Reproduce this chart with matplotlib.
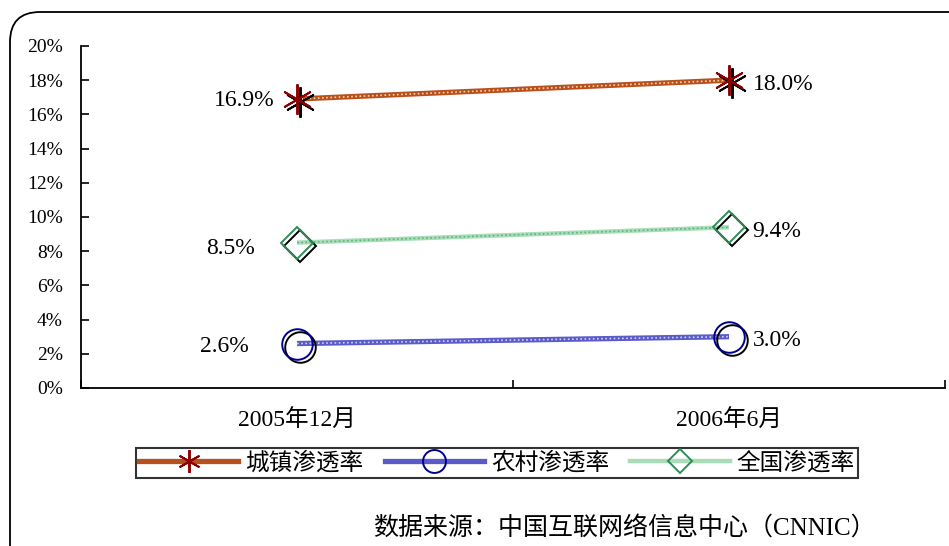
import matplotlib
matplotlib.use('Agg')
import matplotlib.pyplot as plt
import matplotlib.transforms as mtransforms
from matplotlib.patches import FancyBboxPatch
from matplotlib.lines import Line2D

plt.rcParams['font.family'] = ['Liberation Serif', 'Noto Sans CJK SC']

periods = ['2005年12月', '2006年6月']
urban = [16.9, 18.0]
rural = [2.6, 3.0]
national = [8.5, 9.4]
names = ['城镇渗透率', '农村渗透率', '全国渗透率']
yticks = [0, 2, 4, 6, 8, 10, 12, 14, 16, 18, 20]
source = '数据来源：中国互联网络信息中心（CNNIC）'

fig = plt.figure(figsize=(9.49, 5.46), dpi=100)
ax = fig.add_axes([0.0854, 0.2894, 0.9104, 0.6264])

# rounded outer frame
frame = FancyBboxPatch((0.10, -1.0), 10.0, 6.34, boxstyle='round,pad=0,rounding_size=0.3',
                       transform=fig.dpi_scale_trans, fill=False, ec='black', lw=1.3)
fig.patches.append(frame)

x = list(range(len(periods)))
shadow = mtransforms.offset_copy(ax.transData, fig=fig, x=3, y=-3, units='dots')

styles = [
    (urban, '#B8501E', '#FFD0A0', (6, 2, 0), 22, '#8B0000', 3.8),
    (rural, '#5A5AC8', '#D0D0FF', 'o', 22, '#000090', 3.8),
    (national, '#A8DDB8', '#5DB47A', 'D', 16, '#2E8B57', 3.2),
]

handles = []
for (vals, col, dots, mk, ms, mcol, lw), name in zip(styles, names):
    ax.plot(x, vals, color=col, lw=lw, solid_capstyle='butt', zorder=2)
    ax.plot(x, vals, color=dots, lw=1.2, ls=(0, (1, 1.5)), zorder=3)
    ax.plot(x, vals, ls='none', marker=mk, ms=ms, mfc='none', mec='black', mew=1.4,
            transform=shadow, zorder=4)
    ax.plot(x, vals, ls='none', marker=mk, ms=ms, mfc='none', mec=mcol, mew=1.4, zorder=5)
    handles.append(Line2D([], [], color=col, lw=lw, marker=mk, ms=ms * 0.75,
                          mfc='none', mec=mcol, mew=1.4))

# label offsets in points
left_off = [(-16, -1), (-35, -2), (-30, -4)]
for vals, (dx, dy) in zip([urban, rural, national], left_off):
    ax.annotate(f'{vals[0]:.1f}%', (0, vals[0]), xytext=(dx, dy), textcoords='offset points',
                ha='right', va='center', fontsize=17)
    ax.annotate(f'{vals[1]:.1f}%', (1, vals[1]), xytext=(17, -3), textcoords='offset points',
                ha='left', va='center', fontsize=17)

ax.set_xlim(-0.5, 1.5)
ax.set_ylim(0, 20)
ax.set_yticks(yticks)
ax.set_yticklabels([f'{v}%' for v in yticks], fontsize=14)
ax.set_xticks([-0.5, 0.5, 1.5], minor=False)
ax.set_xticklabels([])
ax.set_xticks(x, minor=True)
ax.set_xticklabels(periods, minor=True, fontsize=17)
ax.tick_params(axis='x', which='minor', length=0, pad=16)
ax.tick_params(axis='x', which='major', direction='in', length=6, width=1.2)
ax.tick_params(axis='y', direction='in', length=6, width=1.2, pad=13)
for s in ['top', 'right']:
    ax.spines[s].set_visible(False)
for s in ['left', 'bottom']:
    ax.spines[s].set_linewidth(1.3)
ax.patch.set_alpha(0)

leg = fig.legend(handles, names, loc='center', bbox_to_anchor=(497 / 949, 1 - 463 / 546),
                 ncol=3, fontsize=17, frameon=True, fancybox=False, handlelength=4.2,
                 handletextpad=0.3, columnspacing=0.9, borderpad=0.15, borderaxespad=0)
leg.get_frame().set_edgecolor('black')
leg.get_frame().set_linewidth(1.5)

fig.text(373 / 949, 1 - 528 / 546, source, ha='left', va='center', fontsize=18)

fig.savefig('out.png', dpi=100)
